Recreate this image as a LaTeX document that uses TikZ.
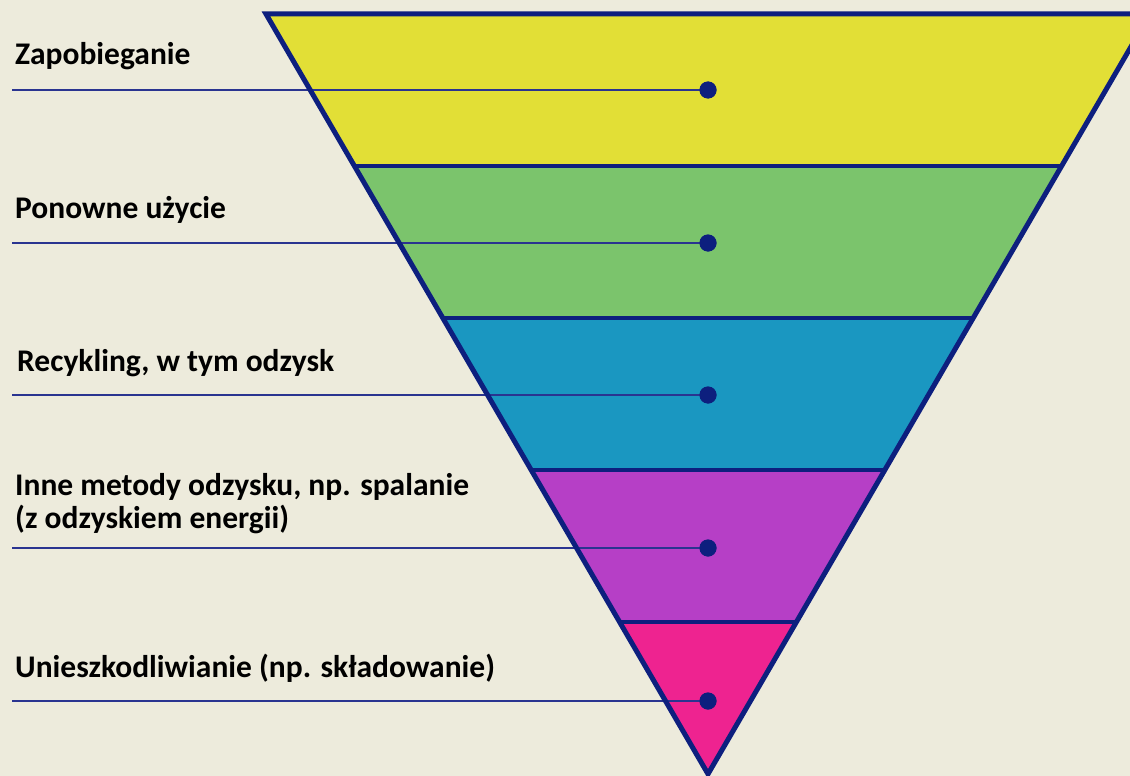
\documentclass[tikz,border=0pt]{standalone}
\usepackage{fontspec}
\setmainfont{Carlito}
\definecolor{bgc}{HTML}{EDEBDC}
\definecolor{navy}{HTML}{0D1F7E}
\definecolor{leadc}{HTML}{2A3490}
\definecolor{c1}{HTML}{E2DF36}
\definecolor{c2}{HTML}{7BC46C}
\definecolor{c3}{HTML}{1A97C1}
\definecolor{c4}{HTML}{B63FC6}
\definecolor{c5}{HTML}{EE2390}
\begin{document}
\begin{tikzpicture}[x=1pt,y=-1pt,
  lbl/.style={anchor=base west,inner sep=0pt,font=\fontsize{31.5}{33}\selectfont\bfseries,text=black},
  leader/.style={draw=leadc,line width=2.2pt},
  dotc/.style={circle,fill=navy,inner sep=0pt,minimum size=17pt},
  edge/.style={draw=navy,line width=5pt,line join=miter}]
\fill[bgc] (0,0) rectangle (1130,776);
\useasboundingbox (0,0) rectangle (1130,776);
\begin{scope}
\clip (0,0) rectangle (1130,776);
\coordinate (L0) at (266,14);   \coordinate (R0) at (1150,14);
\coordinate (L1) at (354.4,166); \coordinate (R1) at (1061.6,166);
\coordinate (L2) at (442.8,318); \coordinate (R2) at (973.2,318);
\coordinate (L3) at (531.2,470); \coordinate (R3) at (884.8,470);
\coordinate (L4) at (619.6,622); \coordinate (R4) at (796.4,622);
\coordinate (A) at (708,774);
\fill[c1] (L0) -- (R0) -- (R1) -- (L1) -- cycle;
\fill[c2] (L1) -- (R1) -- (R2) -- (L2) -- cycle;
\fill[c3] (L2) -- (R2) -- (R3) -- (L3) -- cycle;
\fill[c4] (L3) -- (R3) -- (R4) -- (L4) -- cycle;
\fill[c5] (L4) -- (R4) -- (A) -- cycle;

\node[dotc] (d1) at (708,90) {};
\node[dotc] (d2) at (708,243) {};
\node[dotc] (d3) at (708,395) {};
\node[dotc] (d4) at (708,548) {};
\node[dotc] (d5) at (708,701) {};
\coordinate (s1) at (12,90);
\coordinate (s2) at (12,243);
\coordinate (s3) at (12,395);
\coordinate (s4) at (12,548);
\coordinate (s5) at (12,701);
\draw[leader] (s1) -- (d1.center);
\draw[leader] (s2) -- (d2.center);
\draw[leader] (s3) -- (d3.center);
\draw[leader] (s4) -- (d4.center);
\draw[leader] (s5) -- (d5.center);

\draw[navy,line width=4pt] (L1) -- (R1) (L2) -- (R2) (L3) -- (R3) (L4) -- (R4);
\draw[edge] (L0) -- (R0) -- (A) -- cycle;

\node[dotc] at (d1) {};
\node[dotc] at (d2) {};
\node[dotc] at (d3) {};
\node[dotc] at (d4) {};
\node[dotc] at (d5) {};
\end{scope}

\node[lbl] (l1) at (15,65) {Zapobieganie};
\node[lbl] (l2) at (15,218) {Ponowne użycie};
\node[lbl] (l3) at (17,371) {Recykling, w tym odzysk};
\node[lbl] (l4) at (15,495) {Inne metody odzysku, np. spalanie};
\node[lbl] (l4b) at (15,528) {(z odzyskiem energii)};
\node[lbl] (l5) at (15,677) {Unieszkodliwianie (np. składowanie)};
\end{tikzpicture}
\end{document}
